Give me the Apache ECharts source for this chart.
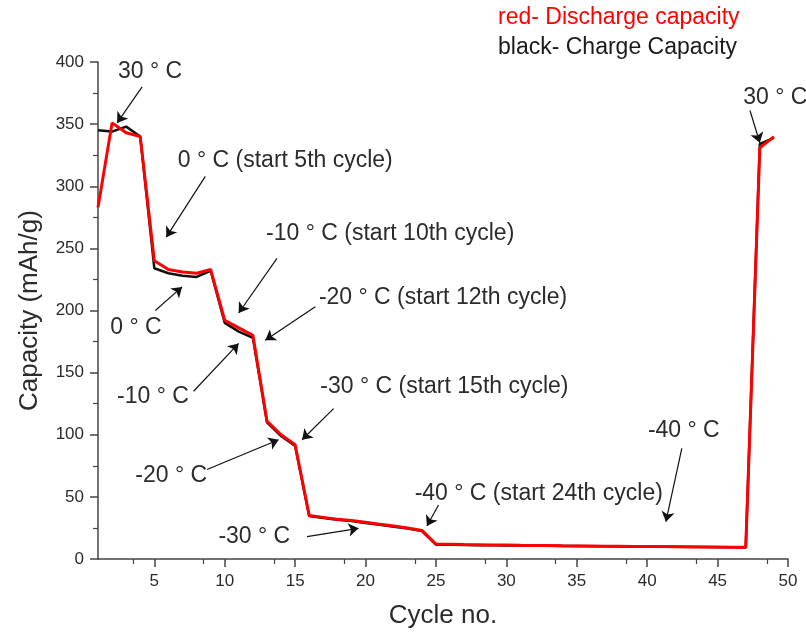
<!DOCTYPE html>
<html>
<head>
<meta charset="utf-8">
<script src="https://cdn.jsdelivr.net/npm/echarts@6/dist/echarts.min.js"></script>
<style>
  html, body { margin: 0; padding: 0; background: #fff; }
  #chart { width: 806px; height: 634px; }
</style>
</head>
<body>
<div id="chart"></div>
<script>
// Cycle numbers 1..49
const cycles = [1,2,3,4,5,6,7,8,9,10,11,12,13,14,15,16,17,18,19,20,21,22,23,24,25,
  26,27,28,29,30,31,32,33,34,35,36,37,38,39,40,41,42,43,44,45,46,47,48,49];

// Discharge capacity (mAh/g)
const discharge = [283,351,343,340,240,233,231,230,233,192,186,180,111,100,92,35,33.5,32,31,29.5,28,26.5,25,23,12,
  11.8,11.6,11.5,11.3,11.2,11,10.9,10.8,10.6,10.5,10.4,10.3,10.2,10.1,10,10,9.9,9.8,9.7,9.6,9.5,9.4,331,340];

// Charge capacity (mAh/g)
const charge = [345,344,348,340,234,230,228,227,232,190,183,178,110,99,91,34.5,33,31.5,30.5,29,27.5,26,24.5,22.5,11.5,
  11.4,11.3,11.1,11,10.9,10.8,10.7,10.6,10.5,10.4,10.3,10.2,10.1,10,9.9,9.9,9.8,9.7,9.6,9.5,9.4,9.3,334,339];

// Axis ticks
const xTicks = { min: 1, max: 50, interval: 5 };
const xLabelValues = [5,10,15,20,25,30,35,40,45,50];
const yTicks = { min: 0, max: 400, interval: 50 };

// Temperature notes: label text and where it sits (cycle, capacity)
const noteText = ['30 ° C', '0 ° C (start 5th cycle)', '0 ° C', '-10 ° C (start 10th cycle)',
  '-20 ° C (start 12th cycle)', '-10 ° C', '-30 ° C (start 15th cycle)', '-20 ° C', '-30 ° C',
  '-40 ° C (start 24th cycle)', '-40 ° C', '30 ° C'];
const notePos = [[4.7,392],[14.3,321],[3.7,186],[21.75,262],[25.5,210],[4.9,131],[25.6,138.5],
  [6.2,67],[12.1,18],[32.3,52.5],[42.6,103],[49.1,371]];
// Arrow from / to (cycle, capacity)
const arrowFrom = [[4.13,380],[8.62,308],[5.07,200],[13.71,242],[16.43,203],[7.79,135],[17.73,121],
  [8.74,72],[15.84,18],[25.18,43.5],[42.46,89],[47.3,361]];
const arrowTo = [[2.36,351],[5.85,259],[6.97,219],[10.99,198],[12.88,176],[10.99,173.5],[15.49,96],
  [13.83,96],[19.5,24.7],[24.36,26.6],[41.33,30],[48.0,335]];

const textColor = '#2b2b2b';
const fontFam = '"Liberation Sans", Arial, sans-serif';

const chart = echarts.init(document.getElementById('chart'), null, { renderer: 'canvas' });

chart.setOption({
  animation: false,
  backgroundColor: '#fff',
  grid: { left: 98, right: 18, top: 62, bottom: 75, containLabel: false },
  xAxis: {
    type: 'value', min: xTicks.min, max: xTicks.max, interval: xTicks.interval,
    name: 'Cycle no.', nameLocation: 'middle', nameGap: 44,
    nameTextStyle: { fontSize: 26, color: textColor, fontFamily: fontFam },
    axisLine: { show: true, onZero: false, lineStyle: { color: '#444', width: 1.5 } },
    axisTick: { show: true, inside: false, length: 8, lineStyle: { color: '#444', width: 1.5 },
      customValues: xLabelValues },
    minorTick: { show: true, splitNumber: 2, length: 5, lineStyle: { color: '#444', width: 1.2 } },
    axisLabel: { fontSize: 17, color: textColor, fontFamily: fontFam, margin: 14,
      customValues: xLabelValues },
    splitLine: { show: false }
  },
  yAxis: {
    type: 'value', min: yTicks.min, max: yTicks.max, interval: yTicks.interval,
    name: 'Capacity (mAh/g)', nameLocation: 'middle', nameGap: 55,
    nameTextStyle: { fontSize: 26, color: textColor, fontFamily: fontFam },
    axisLine: { show: true, lineStyle: { color: '#444', width: 1.5 } },
    axisTick: { show: true, inside: false, length: 8, lineStyle: { color: '#444', width: 1.5 } },
    minorTick: { show: true, splitNumber: 2, length: 5, lineStyle: { color: '#444', width: 1.2 } },
    axisLabel: { fontSize: 17, color: textColor, fontFamily: fontFam, margin: 14 },
    splitLine: { show: false }
  },
  graphic: [
    { type: 'text', left: 498, top: 6, style: { text: 'red- Discharge capacity', fill: '#ff0000', font: '23px ' + fontFam } },
    { type: 'text', left: 498, top: 36, style: { text: 'black- Charge Capacity', fill: '#1a1a1a', font: '23px ' + fontFam } }
  ],
  series: [
    {
      name: 'Charge', type: 'line', data: cycles.map((c, i) => [c, charge[i]]),
      showSymbol: false, lineStyle: { color: '#111', width: 2.5 }, z: 2
    },
    {
      name: 'Discharge', type: 'line', data: cycles.map((c, i) => [c, discharge[i]]),
      showSymbol: false, lineStyle: { color: '#ff0000', width: 3 }, z: 3
    },
    {
      name: 'arrows', type: 'lines', coordinateSystem: 'cartesian2d', z: 4,
      symbol: ['none', 'arrow'], symbolSize: 10,
      lineStyle: { color: '#111', width: 1.2, opacity: 1 },
      data: arrowFrom.map((f, i) => ({ coords: [f, arrowTo[i]] }))
    },
    {
      name: 'notes', type: 'scatter', symbolSize: 0, z: 5,
      itemStyle: { opacity: 1 },
      data: notePos.map((p, i) => ({ value: p, text: noteText[i] })),
      label: {
        show: true, position: 'inside', color: textColor, opacity: 1, fontSize: 23, fontFamily: fontFam,
        formatter: p => p.data.text
      }
    }
  ]
});
</script>
</body>
</html>
